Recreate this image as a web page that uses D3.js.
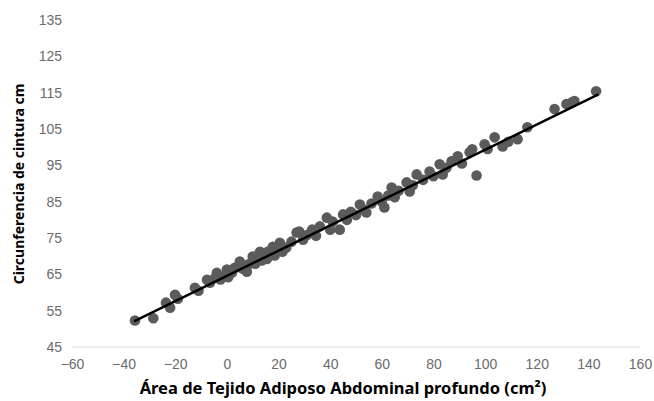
<!DOCTYPE html>
<html>
<head>
<meta charset="utf-8">
<script src="https://cdn.jsdelivr.net/npm/d3@7"></script>
<style>
    body { margin: 0; background: #fff; }
    svg { display: block; }
</style>
</head>
<body>
<svg id="chart" width="654" height="401"></svg>
<script>
// Points (x = area cm2, y = waist cm)
const areaX = [-35.6, -28.5, -23.6, -22, -20.1, -19, -12.4, -11, -7.7, -6.6, -4.6, -3.9, -2.5, -1, 0, 0.5, 2, 3, 5, 6,
    7.7, 8.5, 10, 11, 12.8, 13.5, 14.5, 15.5, 16, 17.8, 18.5, 19.5, 20.5, 21.5, 23, 25, 27, 28, 29.5, 31,
    33, 34.5, 36, 38.7, 40, 41, 43.7, 45, 46.5, 48, 50, 51.5, 53, 54, 56, 58.4, 60, 61, 62.5, 63.8,
    65, 66.5, 69.6, 70.8, 72, 73.5, 76, 78.5, 80, 82.4, 83.6, 85, 87, 89.4, 91, 94, 95, 96.7, 99.8, 101,
    103.7, 106.8, 109, 112.6, 116.4, 126.9, 131.5, 133.8, 134.6, 143];
const waistY = [52.3, 52.9, 57.2, 55.8, 59.4, 58.3, 61.3, 60.5, 63.5, 62.7, 64, 65.4, 63.6, 64.5, 66.3, 64.2, 65.5, 66.8, 68.5, 66.6,
    65.7, 67.8, 69.9, 67.9, 71.2, 68.8, 70.5, 69.2, 71.3, 72.6, 70.2, 71.8, 73.7, 71.2, 72.4, 74, 76.5, 76.8, 74.5, 75.8,
    77.3, 75.6, 78.2, 80.6, 77.3, 79.5, 77.3, 81.5, 80, 82.2, 81.3, 84.2, 82.8, 82, 84.5, 86.4, 85, 83.4, 86.7, 88.9,
    86.2, 88, 90.3, 87.8, 89.5, 92.5, 91, 93.3, 92, 95.3, 92.5, 94.3, 96.1, 97.5, 95.5, 98.6, 99.4, 92.2, 100.8, 99.5,
    102.7, 100.2, 101.5, 102.2, 105.5, 110.5, 111.9, 112.4, 112.7, 115.4];

// trend line ends as seen in the picture
const trendX = [-35.6, 143.5];
const trendY = [52.2, 114.4];

const xTicks = [-60, -40, -20, 0, 20, 40, 60, 80, 100, 120, 140, 160];
const yTicks = [45, 55, 65, 75, 85, 95, 105, 115, 125, 135];

const xTitle = "Área de Tejido Adiposo Abdominal profundo (cm²)";
const yTitle = "Circunferencia de cintura cm";

let svg = d3.select("#chart");

let x = d3.scaleLinear().domain([-60, 160]).range([72, 640]);
let y = d3.scaleLinear().domain([45, 135]).range([347, 20]);

// Horizontal axis line
svg.append("line")
    .attr("x1", x(-60)).attr("x2", x(160))
    .attr("y1", y(45)).attr("y2", y(45))
    .attr("stroke", "#d9d9d9")
    .attr("stroke-width", 1);

// X tick labels
let xAxis = d3.axisBottom(x).tickValues(xTicks).tickSize(0).tickPadding(12);
let gx = svg.append("g")
    .attr("transform", "translate(0," + y(45) + ")")
    .call(xAxis);
gx.select(".domain").remove();
gx.selectAll("text")
    .attr("fill", "#6b6b6b")
    .style("font-family", "'Liberation Sans', Arial, sans-serif")
    .style("font-size", "14px");

// Y tick labels
let yAxis = d3.axisLeft(y).tickValues(yTicks).tickSize(0).tickPadding(10);
let gy = svg.append("g")
    .attr("transform", "translate(72,0)")
    .call(yAxis);
gy.select(".domain").remove();
gy.selectAll("text")
    .attr("fill", "#6b6b6b")
    .style("font-family", "'Liberation Sans', Arial, sans-serif")
    .style("font-size", "14px");

// Points
let points = areaX.map(function (d, i) {
    return {x: d, y: waistY[i]};
});

svg.append("g")
    .selectAll("circle")
    .data(points)
    .enter()
    .append("circle")
    .attr("cx", function (d) { return x(d.x); })
    .attr("cy", function (d) { return y(d.y); })
    .attr("r", 5.3)
    .attr("fill", "#5b5b5b");

// Trend line
svg.append("line")
    .attr("x1", x(trendX[0])).attr("y1", y(trendY[0]))
    .attr("x2", x(trendX[1])).attr("y2", y(trendY[1]))
    .attr("stroke", "#000")
    .attr("stroke-width", 2.5)
    .attr("stroke-linecap", "round");

// Axis titles
svg.append("text")
    .attr("x", 343)
    .attr("y", 394)
    .attr("text-anchor", "middle")
    .style("font-family", "'Noto Sans', sans-serif")
    .style("font-weight", "bold")
    .style("font-size", "16.5px")
    .attr("fill", "#000")
    .text(xTitle);

svg.append("text")
    .attr("transform", "translate(24,184) rotate(-90)")
    .attr("text-anchor", "middle")
    .style("font-family", "'Noto Sans', sans-serif")
    .style("font-weight", "bold")
    .style("font-size", "14px")
    .attr("fill", "#000")
    .text(yTitle);
</script>
</body>
</html>
